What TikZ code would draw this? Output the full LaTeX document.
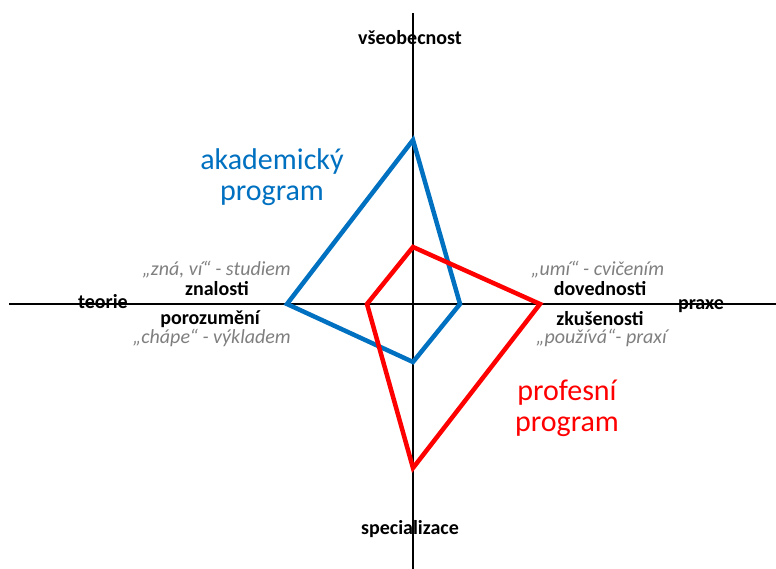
\documentclass[tikz,border=0pt]{standalone}
\usepackage{fontspec}
\setmainfont{Carlito}
\definecolor{akablue}{HTML}{0070C0}
\definecolor{profred}{HTML}{FF0000}
\definecolor{notegray}{HTML}{7F7F7F}
\begin{document}
\begin{tikzpicture}[x=1pt,y=-1pt,
  axis/.style={line width=1.5pt, black},
  polyline/.style={line width=4.5pt, line join=miter},
  axislabel/.style={font=\fontsize{20}{24}\selectfont\bfseries, inner sep=0pt, anchor=base},
  notelabel/.style={font=\fontsize{20}{24}\selectfont\itshape, text=notegray, inner sep=0pt},
  progtitle/.style={font=\fontsize{30}{31}\selectfont, align=center, inner sep=0pt}]
\useasboundingbox (0,0) rectangle (776,569);

% axis ends
\coordinate (axL) at (9,304);
\coordinate (axR) at (776,304);
\coordinate (axT) at (413,13);
\coordinate (axB) at (413,569);

% pole labels and quadrant notes (placed by baseline)
\node[axislabel] (gen) at (410,45) {všeobecnost};
\node[axislabel] (spec) at (410,534) {specializace};
\node[axislabel] (theory) at (103,308) {teorie};
\node[axislabel] (practice) at (701,309) {praxe};
\node[axislabel] (know) at (217,295) {znalosti};
\node[axislabel] (under) at (210,324) {porozumění};
\node[axislabel] (skill) at (600,295) {dovednosti};
\node[axislabel] (exper) at (600,325) {zkušenosti};
\node[notelabel, anchor=base east] (knowN) at (291,276) {„zná, ví“ - studiem};
\node[notelabel, anchor=base east] (underN) at (291,343) {„chápe“ - výkladem};
\node[notelabel, anchor=base west] (skillN) at (531,276) {„umí“ - cvičením};
\node[notelabel, anchor=base west] (experN) at (536,343) {„používá“- praxí};

% axes
\draw[axis] (axL) -- (axR);
\draw[axis] (axT) -- (axB);

% academic programme profile
\coordinate (aT) at (413,140);
\coordinate (aR) at (460,304);
\coordinate (aB) at (413,362);
\coordinate (aL) at (287,304);
\draw[polyline, akablue] (aT) -- (aR) -- (aB) -- (aL) -- cycle;

% professional programme profile
\coordinate (pT) at (413,247);
\coordinate (pR) at (540,304);
\coordinate (pB) at (413,468);
\coordinate (pL) at (367,304);
\draw[polyline, profred] (pT) -- (pR) -- (pB) -- (pL) -- cycle;

% programme titles
\node[progtitle, text=akablue] (acad) at (272,177) {akademický\\program};
\node[progtitle, text=profred] (prof) at (567,408) {profesní\\program};
\end{tikzpicture}
\end{document}
